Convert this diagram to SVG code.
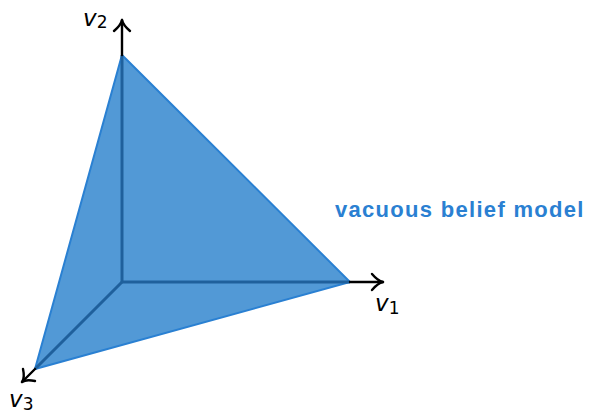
<svg xmlns="http://www.w3.org/2000/svg" width="592" height="415" viewBox="0 0 592 415">
<style>
.ax{stroke:#000;stroke-width:2.4;fill:none;stroke-linecap:round;stroke-linejoin:round}
.in{stroke:#1f609c;stroke-width:3;fill:none}
.lb{font-family:"DejaVu Sans",sans-serif;font-size:23px;font-style:italic;fill:#000}
.sb{font-family:"DejaVu Sans",sans-serif;font-size:17px;fill:#000;font-style:normal}
</style>
<g id="simplex">
<polygon points="122,55 350,282 35,369" fill="#5299d6" stroke="#2a80d2" stroke-width="2"/>
</g>
<g id="connectors">
<line class="in" x1="122" y1="282" x2="122" y2="55"/>
<line class="in" x1="122" y1="282" x2="350" y2="282"/>
<line class="in" x1="122" y1="282" x2="35" y2="369"/>
<line class="ax" x1="122" y1="55" x2="122" y2="20"/>
<path class="ax" d="M114,31 Q121,25 122,20 Q123,25 130,31"/>
<line class="ax" x1="350" y1="282" x2="383" y2="282"/>
<path class="ax" d="M372,274 Q378,281 383,282 Q378,283 372,290"/>
<line class="ax" x1="35" y1="369" x2="22" y2="382"/>
<path class="ax" d="M23,369 Q25,378 22,382 Q26,379 35,381"/>
</g>
<g id="labels">
<text class="lb" x="83" y="26">v<tspan class="sb" dy="2">2</tspan></text>
<text class="lb" x="375" y="311">v<tspan class="sb" dy="3">1</tspan></text>
<text class="lb" x="9" y="407">v<tspan class="sb" dy="3">3</tspan></text>
<text x="335" y="217" font-family="Liberation Sans,Arial,sans-serif" font-weight="bold" font-size="22" letter-spacing="1.3" fill="#2a80d2">vacuous belief model</text>
</g>
</svg>
